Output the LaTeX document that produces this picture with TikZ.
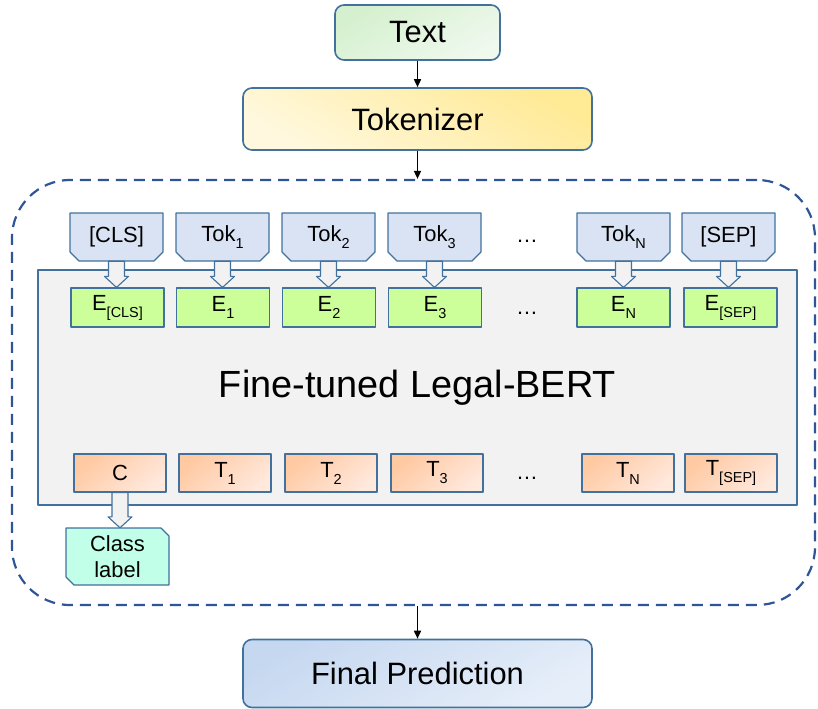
\documentclass[tikz,border=0pt]{standalone}
\usepackage{fontspec}
\setmainfont{Liberation Sans}
\usetikzlibrary{calc,arrows.meta}
\definecolor{boxedge}{HTML}{41719C}
\definecolor{dashblue}{HTML}{2F5597}
\definecolor{tokenfill}{HTML}{DAE3F3}
\definecolor{embedfill}{HTML}{CCFF99}
\definecolor{bertgray}{HTML}{F2F2F2}
\definecolor{classmint}{HTML}{C1FFE9}
\definecolor{textgreenA}{HTML}{D5F0CE}
\definecolor{textgreenB}{HTML}{EFF9EE}
\definecolor{tokyellowA}{HTML}{FFEA96}
\definecolor{tokyellowB}{HTML}{FFF8DE}
\definecolor{finalblueA}{HTML}{C6D8F0}
\definecolor{finalblueB}{HTML}{E6EEF9}
\definecolor{peachA}{HTML}{FFC9A2}
\definecolor{peachB}{HTML}{FFE8DC}

% lowered index in the labels
\newcommand{\lowidx}[1]{\raisebox{-0.32em}{\fontsize{14.5}{14.5}\selectfont #1}}

% hollow block arrow from the bottom of one node to the top of another
\newcommand{\hollowarrow}[2]{%
  \draw[blockarrow] let \p1=(#1.south), \p2=(#2.north) in
    (\x1-8bp,\y1) -- (\x1+8bp,\y1) -- (\x1+8bp,\y2+11bp) -- (\x1+12bp,\y2+11bp)
    -- (\x1,\y2) -- (\x1-12bp,\y2+11bp) -- (\x1-8bp,\y2+11bp) -- cycle;}

\begin{document}
\begin{tikzpicture}[
  x=1bp,
  y=-1bp,
  line join=round,
  stage/.style={draw=boxedge,line width=1.6bp,rounded corners=9bp,inner sep=0pt,
    minimum width=349bp,font=\fontsize{31}{31}\selectfont},
  tokenshape/.style={draw=boxedge,line width=1.2bp,fill=tokenfill},
  token/.style={rectangle,inner sep=0pt,minimum width=93bp,minimum height=48bp,
    font=\fontsize{22}{22}\selectfont},
  embed/.style={rectangle,draw=boxedge,line width=1.2bp,fill=embedfill,inner sep=0pt,
    minimum width=93bp,minimum height=39bp,font=\fontsize{22}{22}\selectfont},
  hidout/.style={rectangle,draw=boxedge,line width=1.2bp,top color=peachA,
    bottom color=peachB,shading angle=40,inner sep=0pt,
    minimum width=92bp,minimum height=38bp,font=\fontsize{22}{22}\selectfont},
  blockarrow/.style={draw=boxedge,line width=1.1bp,fill=bertgray},
  flow/.style={draw=black,line width=1.6bp,-{Triangle[length=8bp,width=7bp]}},
  dots/.style={font=\fontsize{22}{22}\selectfont}
]
  \useasboundingbox (0,0) rectangle (818,709);

  % Pipeline stages outside the model.
  \node[stage,minimum width=165bp,minimum height=55bp,top color=textgreenA,
    bottom color=textgreenB,shading angle=30] (text) at (417.5,32.5) {Text};
  \node[stage,minimum height=62bp,top color=tokyellowA,
    bottom color=tokyellowB,shading angle=-30] (tokenizer) at (417.5,119) {Tokenizer};
  \node[stage,minimum height=68bp,top color=finalblueA,
    bottom color=finalblueB,shading angle=30] (final) at (417.5,673.5) {Final Prediction};

  % Dashed frame round the model and the gray BERT block.
  \node[draw=dashblue,line width=2.2bp,dash pattern=on 11bp off 7bp,rounded corners=58bp,
    minimum width=803bp,minimum height=425bp] (encoder) at (413.5,392.5) {};
  \node[draw=boxedge,line width=2.4bp,fill=bertgray,minimum width=759bp,minimum height=235bp,
    font=\fontsize{38}{38}\selectfont] (bert) at (417.5,387.5) {Fine-tuned Legal-BERT};

  % Input tokens (bottom corners cut), embeddings and outputs.
  \foreach \name/\cx/\lbl in {cls/116.5/{[CLS]},tok1/222.5/{Tok\lowidx{1}},tok2/328.5/{Tok\lowidx{2}},
      tok3/434.5/{Tok\lowidx{3}},tokn/623.5/{Tok\lowidx{N}},sep/728.5/{[SEP]}} {
    \draw[tokenshape] (\cx-46.5,213) -- (\cx+46.5,213) -- (\cx+46.5,252) -- (\cx+37.5,261)
      -- (\cx-37.5,261) -- (\cx-46.5,252) -- cycle;
    \node[token] (\name) at (\cx,237) {\lbl};
  }
  \foreach \name/\cx/\lbl in {ecls/117.5/{E\lowidx{[CLS]}},e1/223/{E\lowidx{1}},e2/329/{E\lowidx{2}},
      e3/435/{E\lowidx{3}},en/623.5/{E\lowidx{N}},esep/730.5/{E\lowidx{[SEP]}}} {
    \node[embed] (\name) at (\cx,307.5) {\lbl};
  }
  \foreach \name/\cx/\lbl in {outc/120/{C},out1/225/{T\lowidx{1}},out2/331/{T\lowidx{2}},
      out3/437/{T\lowidx{3}},outn/628/{T\lowidx{N}},outsep/731/{T\lowidx{[SEP]}}} {
    \node[hidout] (\name) at (\cx,473) {\lbl};
  }
  \node[dots] (tokdots) at (527,241) {…};
  \node[dots] (embdots) at (527,313) {…};
  \node[dots] (outdots) at (527,478) {…};

  % Class label: top right and bottom left corners cut.
  \draw[tokenshape,fill=classmint] (66,528) -- (161,528) -- (169,536) -- (169,585)
    -- (74,585) -- (66,577) -- cycle;
  \node[rectangle,inner sep=0pt,minimum width=103bp,minimum height=57bp,align=center,
    font=\fontsize{22}{26}\selectfont] (classlbl) at (117.5,556.5) {Class\\label};

  % Hollow arrows into the model and out to the class label.
  \foreach \a/\b in {cls/ecls,tok1/e1,tok2/e2,tok3/e3,tokn/en,sep/esep,outc/classlbl} {
    \hollowarrow{\a}{\b}
  }

  % Flow arrows.
  \draw[flow] (text) -- (tokenizer);
  \draw[flow] (tokenizer) -- (tokenizer.south |- encoder.north);
  \draw[flow] (final.north |- encoder.south) -- (final);
\end{tikzpicture}
\end{document}
